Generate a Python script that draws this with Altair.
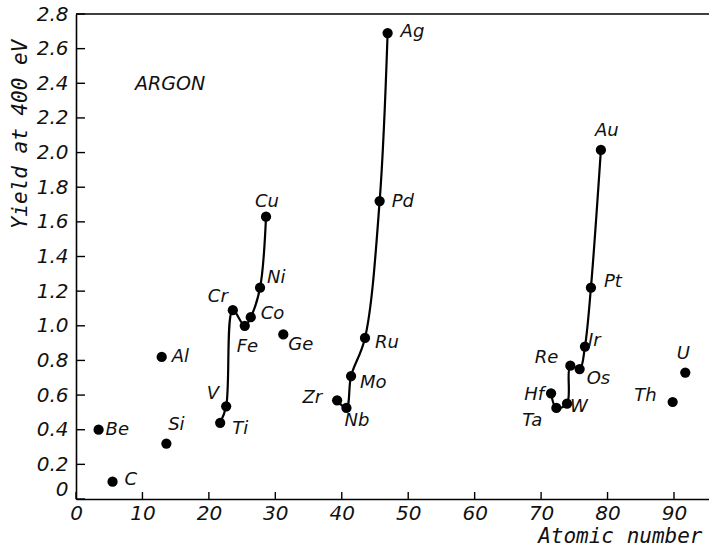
import altair as alt
import pandas as pd

# ---- data ----
elements = ["Be", "C", "Al", "Si", "Ti", "V", "Cr", "Fe", "Co", "Ni", "Cu", "Ge",
            "Zr", "Nb", "Mo", "Ru", "Pd", "Ag",
            "Hf", "Ta", "W", "Re", "Os", "Ir", "Pt", "Au", "Th", "U"]
atomic_pos = [3.4, 5.5, 12.9, 13.6, 21.7, 22.6, 23.6, 25.4, 26.3, 27.7, 28.6, 31.2,
              39.3, 40.7, 41.4, 43.5, 45.7, 46.9,
              71.5, 72.3, 73.9, 74.4, 75.8, 76.6, 77.5, 79.0, 89.8, 91.7]
yields = [0.40, 0.10, 0.82, 0.32, 0.44, 0.535, 1.09, 1.00, 1.05, 1.22, 1.63, 0.95,
          0.57, 0.526, 0.71, 0.93, 1.72, 2.69,
          0.61, 0.526, 0.55, 0.77, 0.75, 0.88, 1.22, 2.015, 0.56, 0.73]

chain_3d = ["Ti", "V", "Cr", "Fe", "Co", "Ni", "Cu"]
chain_4d = ["Zr", "Nb", "Mo", "Ru", "Pd", "Ag"]
chain_5d = ["Hf", "Ta", "W", "Re", "Os", "Ir", "Pt", "Au"]

x_ticks = [0, 10, 20, 30, 40, 50, 60, 70, 80, 90]
y_ticks = [0, 0.2, 0.4, 0.6, 0.8, 1.0, 1.2, 1.4, 1.6, 1.8, 2.0, 2.2, 2.4, 2.6, 2.8]

# label placement (align, dx, dy) - styling only
label_style = {
    "Be": ("left", 7, 0), "C": ("left", 12, -2), "Al": ("left", 10, 0),
    "Si": ("center", 10, -19), "V": ("right", -7, -12), "Ti": ("left", 12, 6),
    "Cr": ("right", -5, -13), "Fe": ("left", -8, 21), "Co": ("left", 10, -3),
    "Ni": ("left", 7, -10), "Cu": ("center", 1, -15), "Ge": ("left", 5, 11),
    "Zr": ("right", -15, -2), "Nb": ("left", -2, 13), "Mo": ("left", 9, 7),
    "Ru": ("left", 10, 5), "Pd": ("left", 12, 1), "Ag": ("left", 13, -1),
    "Au": ("center", 6, -19), "Pt": ("left", 13, -6), "Ir": ("left", 3, -6),
    "Re": ("right", -12, -8), "Os": ("left", 7, 10), "Hf": ("right", -7, 2),
    "Ta": ("right", -14, 13), "W": ("left", 3, 3), "Th": ("right", -16, -6),
    "U": ("center", -2, -19),
}

FONT = "DejaVu Sans"
TFONT = "DejaVu Sans Mono"
W, H = 633, 485
X_MAX = 95.27

df = pd.DataFrame({"el": elements, "z": atomic_pos, "y": yields})

rows = []
for gname, chain in [("3d", chain_3d), ("4d", chain_4d), ("5d", chain_5d)]:
    for i, e in enumerate(chain):
        k = elements.index(e)
        rows.append({"g": gname, "o": i, "z": atomic_pos[k], "y": yields[k]})
lines_df = pd.DataFrame(rows)
one_row = pd.DataFrame({"k": [0]})

xs = alt.Scale(domain=[0, X_MAX], nice=False, zero=False)
ys = alt.Scale(domain=[0, 2.8], nice=False, zero=False)

x_axis = alt.Axis(values=x_ticks, ticks=False, labelPadding=4, grid=False,
                  labelFont=FONT, labelFontStyle="italic", labelFontSize=20,
                  labelColor="#111", domainColor="#000", domainWidth=1.6,
                  title="Atomic number", titleFont=TFONT, titleFontStyle="italic",
                  titleFontWeight="normal", titleFontSize=21, titleColor="#111",
                  titleAlign="right", titleX=626, titleY=37,
                  titleBaseline="middle", labelFlush=False)
y_axis = alt.Axis(values=y_ticks, ticks=False, labelPadding=8, grid=False,
                  labelFont=FONT, labelFontStyle="italic", labelFontSize=20,
                  labelColor="#111", domainColor="#000", domainWidth=1.6,
                  labelExpr="datum.value == 0 ? '0' : format(datum.value, '.1f')",
                  labelBaseline={"condition": {"test": "datum.value == 0", "value": "bottom"},
                                 "value": "middle"},
                  title="Yield at 400 eV", titleFont=TFONT, titleFontStyle="italic",
                  titleFontWeight="normal", titleFontSize=21, titleColor="#111",
                  titleX=-56, titleY=120, titleAlign="center", titleBaseline="middle",
                  titleAngle=-90, labelFlush=False)

X = lambda f: alt.X(f, scale=xs, axis=x_axis)
Y = lambda f: alt.Y(f, scale=ys, axis=y_axis)

points = alt.Chart(df).mark_circle(color="#000", opacity=1, size=105).encode(
    x=X("z:Q"), y=Y("y:Q"),
)

lines = alt.Chart(lines_df).mark_line(color="#000", strokeWidth=2.2,
                                       interpolate="catmull-rom").encode(
    x=X("z:Q"), y=Y("y:Q"),
    detail="g:N",
    order="o:Q",
)

label_layers = []
for e in elements:
    align, dx, dy = label_style[e]
    label_layers.append(
        alt.Chart(df).transform_filter(alt.datum.el == e).mark_text(
            font=FONT, fontStyle="italic", fontSize=18, color="#111",
            align=align, baseline="middle", dx=dx, dy=dy
        ).encode(
            x=X("z:Q"), y=Y("y:Q"),
            text="el:N",
        )
    )

ytick_df = pd.DataFrame({"v": y_ticks})
xtick_df = pd.DataFrame({"v": x_ticks})

yticks = alt.Chart(ytick_df).mark_rule(color="#000", strokeWidth=1.4).encode(
    y=Y("v:Q"),
    x=alt.value(0), x2=alt.value(9),
)
xticks = alt.Chart(xtick_df).mark_rule(color="#000", strokeWidth=1.4).encode(
    x=X("v:Q"),
    y=alt.value(H), y2=alt.value(H - 7),
)

top_border = alt.Chart(one_row).mark_rule(color="#000", strokeWidth=1.6).encode(
    x=alt.value(0), x2=alt.value(W), y=alt.value(0),
)

argon = alt.Chart(one_row).mark_text(
    font=FONT, fontStyle="italic", fontSize=19, color="#111",
    align="left", baseline="middle", text="ARGON"
).encode(x=alt.value(59), y=alt.value(70))

chart = alt.layer(points, lines, yticks, xticks, top_border, argon, *label_layers).properties(
    width=W, height=H,
    padding={"left": 76, "top": 14, "right": 0, "bottom": 50},
    autosize="none",
    background="white",
).configure_view(strokeWidth=0)

chart.save("out.html", embed_options={"renderer": "svg", "actions": False})
